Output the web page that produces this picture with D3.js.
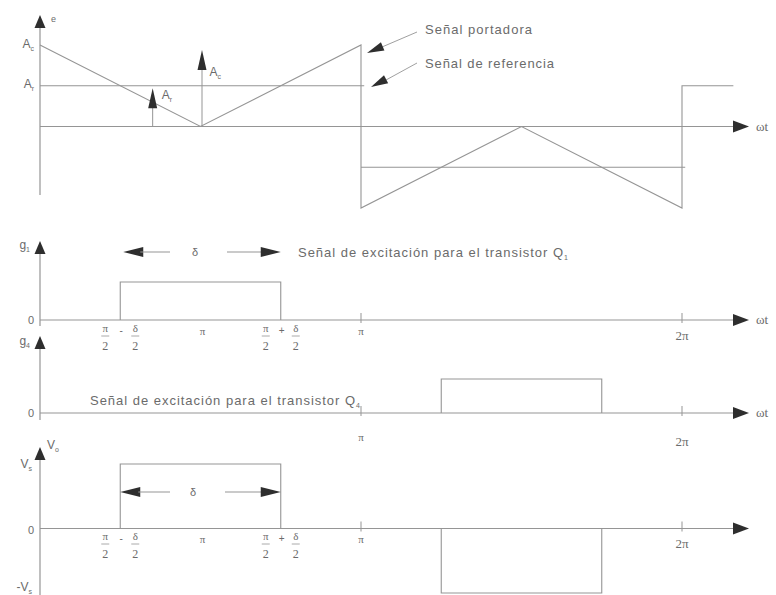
<!DOCTYPE html>
<html>
<head>
<meta charset="utf-8">
<script src="https://cdn.jsdelivr.net/npm/d3@7"></script>
<style>
  body { margin: 0; background: #fff; }
  text { font-family: "Liberation Sans", Arial, sans-serif; fill: #6b6b6b; }
  .serif { font-family: "Liberation Serif", "Times New Roman", serif; }
</style>
</head>
<body>
<div id="container"></div>
<script>
// time in units of pi
var carrierT = [0, 0.5, 1, 1, 1.5, 2, 2, 2.16],
  carrierV = [1, 0, 1, -1, 0, -1, 0.5, 0.5];
var refT = [[0, 1.01], [1, 2.01]],
  refV = [0.5, -0.5];
var g1T = [0.25, 0.25, 0.75, 0.75],
  g1V = [0, 1, 1, 0];
var g2T = [1.25, 1.25, 1.75, 1.75],
  g2V = [0, 1, 1, 0];
var voT = [0.25, 0.25, 0.75, 0.75, 1.25, 1.25, 1.75, 1.75],
  voV = [0, 1, 1, 0, 0, -1, -1, 0];
var g1Ticks = [0.25, 0.5, 0.75, 1, 2],
  g1TickLabels = ['π/2-δ/2', 'π', 'π/2+δ/2', 'π', '2π'];
var g2Ticks = [1, 2],
  g2TickLabels = ['π', '2π'];
var acArrow = 0.94, arArrow = [0.351, 0.47];

var W = 776, H = 595;
var lineCol = '#959595', headCol = '#2e2e2e';

var svg = d3.select('#container').append('svg')
  .attr('width', W).attr('height', H);

var x = d3.scaleLinear().domain([0, 2]).range([40, 682]);
var xEnd = 733;

var yTop = d3.scaleLinear().domain([-1, 1]).range([208, 45]);
var yG1 = d3.scaleLinear().domain([0, 1]).range([320, 282]);
var yG2 = d3.scaleLinear().domain([0, 1]).range([413, 379]);
var yVo = d3.scaleLinear().domain([-1, 1]).range([593, 464]);

var line = d3.line();

function trace(ts, vs, y) {
  svg.append('path')
    .attr('d', line(ts.map(function (t, i) { return [x(t), y(vs[i])]; })))
    .attr('fill', 'none').attr('stroke', lineCol).attr('stroke-width', 1.1);
}

function seg(x1, y1, x2, y2, w) {
  svg.append('line')
    .attr('x1', x1).attr('y1', y1).attr('x2', x2).attr('y2', y2)
    .attr('stroke', lineCol).attr('stroke-width', w || 1.1);
}

// filled head, tip at (tx,ty), pointing along angle a
function head(tx, ty, a, len, half) {
  len = len || 14; half = half || 5;
  var bx = tx - len * Math.cos(a), by = ty - len * Math.sin(a);
  var nx = -Math.sin(a) * half, ny = Math.cos(a) * half;
  svg.append('path')
    .attr('d', 'M' + tx + ',' + ty + 'L' + (bx + nx) + ',' + (by + ny) +
      'L' + (bx - nx) + ',' + (by - ny) + 'Z')
    .attr('fill', headCol);
}

function label(tx, ty, main, sub, opts) {
  opts = opts || {};
  var t = svg.append('text').attr('x', tx).attr('y', ty)
    .attr('font-size', opts.size || 11)
    .attr('text-anchor', opts.anchor || 'start');
  if (opts.cls) t.attr('class', opts.cls);
  t.append('tspan').text(main);
  if (sub) t.append('tspan').attr('font-size', 7).attr('dy', 3).text(sub);
  return t;
}

function timeAxis(y0, yTopEnd, yBot, showWt) {
  seg(40, yTopEnd, 40, yBot, 1.2);
  head(40, yTopEnd - 12, -Math.PI / 2, 13, 5.5);
  seg(40, y0, xEnd, y0, 1.2);
  head(xEnd + 16, y0, 0, 16, 6);
  if (showWt) label(756, y0 + 4, 'ωt', null, { size: 13, cls: 'serif' });
}

function ticks(vals, labels, y0, ty) {
  vals.forEach(function (v, i) {
    if (v >= 1) seg(x(v), y0 - 7, x(v), y0 + 3, 1);
    var lab = labels[i];
    if (lab.indexOf('/') > -1) {
      var sign = lab.indexOf('+') > -1 ? '+' : '-';
      var cx = x(v);
      frac(cx - 15, ty, 'π');
      svg.append('text').attr('x', cx + 1).attr('y', ty + 2)
        .attr('font-size', 10).attr('text-anchor', 'middle').text(sign);
      frac(cx + 15, ty, 'δ');
    } else {
      svg.append('text').attr('class', 'serif')
        .attr('x', x(v) + (v === 0.5 ? 2 : 0)).attr('y', v === 2 ? ty + 8 : ty + 3)
        .attr('font-size', v === 2 ? 13 : 11).attr('text-anchor', 'middle').text(lab);
    }
  });
}

function frac(cx, ty, num) {
  svg.append('text').attr('class', 'serif').attr('x', cx).attr('y', ty)
    .attr('font-size', 11).attr('text-anchor', 'middle').text(num);
  seg(cx - 4, ty + 4, cx + 4, ty + 4, 0.8);
  svg.append('text').attr('class', 'serif').attr('x', cx).attr('y', ty + 18)
    .attr('font-size', 12).attr('text-anchor', 'middle').text('2');
}

// ---- top panel: carrier and reference
seg(40, 28, 40, 195, 1.2);
head(40, 15, -Math.PI / 2, 13, 5.5);
seg(40, yTop(0), xEnd, yTop(0), 1.2);
head(xEnd + 16, yTop(0), 0, 16, 6);
label(756, yTop(0) + 4, 'ωt', null, { size: 13, cls: 'serif' });
label(51, 22, 'e', null, { size: 9 });
label(34, 48, 'A', 'c', { anchor: 'end', size: 12 });
label(34, 88, 'A', 'r', { anchor: 'end', size: 12 });

trace(carrierT, carrierV, yTop);
refT.forEach(function (r, i) { trace(r, [refV[i], refV[i]], yTop); });

// amplitude arrows
seg(x(0.5) + 1.5, yTop(0), x(0.5) + 1.5, yTop(acArrow) + 12, 1);
head(x(0.5) + 1.5, yTop(acArrow), -Math.PI / 2, 20, 4.5);
label(x(0.5) + 9, 76, 'A', 'c', { size: 12 });
seg(x(arArrow[0]), yTop(0), x(arArrow[0]), yTop(arArrow[1]) + 12, 1);
head(x(arArrow[0]), yTop(arArrow[1]), -Math.PI / 2, 20, 4.5);
label(x(arArrow[0]) + 9, 99, 'A', 'r', { size: 12 });

// annotations
seg(417, 32, 382, 47, 0.9);
head(367, 53, Math.atan2(53 - 32, 367 - 417), 17, 4.5);
seg(417, 63, 386, 80, 0.9);
head(371, 87, Math.atan2(87 - 63, 371 - 417), 17, 4.5);
label(425, 34, 'Señal portadora', null, { size: 13 })
  .attr('textLength', 107).attr('lengthAdjust', 'spacing');
label(425, 68, 'Señal de referencia', null, { size: 13 })
  .attr('textLength', 129).attr('lengthAdjust', 'spacing');

// ---- g1 panel
timeAxis(yG1(0), 253, 326, true);
label(30, 249, 'g', '1', { anchor: 'end', size: 12 });
label(34, 324, '0', null, { anchor: 'end', size: 11 });
trace(g1T, g1V, yG1);
ticks(g1Ticks, g1TickLabels, yG1(0), 332);
// delta arrows
head(x(0.25) + 3, 252, Math.PI, 20, 5);
seg(x(0.25) + 20, 252, 170, 252, 1);
label(195, 256, 'δ', null, { size: 11, anchor: 'middle' });
seg(227, 252, x(0.75) - 18, 252, 1);
head(x(0.75), 252, 0, 20, 5);
label(298, 257, 'Señal de excitación para el transistor Q', '1', { size: 13 })
  .attr('textLength', 270).attr('lengthAdjust', 'spacing');

// ---- g2 panel
timeAxis(yG2(0), 348, 420, true);
label(30, 345, 'g', '4', { anchor: 'end', size: 12 });
label(34, 417, '0', null, { anchor: 'end', size: 11 });
trace(g2T, g2V, yG2);
ticks(g2Ticks, g2TickLabels, yG2(0), 438);
label(90, 405, 'Señal de excitación para el transistor Q', '4', { size: 13 })
  .attr('textLength', 270).attr('lengthAdjust', 'spacing');

// ---- output voltage panel
timeAxis(yVo(0), 459, 595, false);
label(47, 449, 'V', 'o', { size: 12 });
label(32, 468, 'V', 's', { anchor: 'end', size: 12 });
label(34, 534, '0', null, { anchor: 'end', size: 11 });
label(32, 591, '-V', 's', { anchor: 'end', size: 12 });
trace(voT, voV, yVo);
ticks(g1Ticks, g1TickLabels, yVo(0), 540);
head(x(0.25), 492, Math.PI, 20, 5);
seg(x(0.25) + 18, 492, 170, 492, 1);
label(193, 496, 'δ', null, { size: 11, anchor: 'middle' });
seg(225, 492, x(0.75) - 18, 492, 1);
head(x(0.75), 492, 0, 20, 5);
</script>
</body>
</html>
